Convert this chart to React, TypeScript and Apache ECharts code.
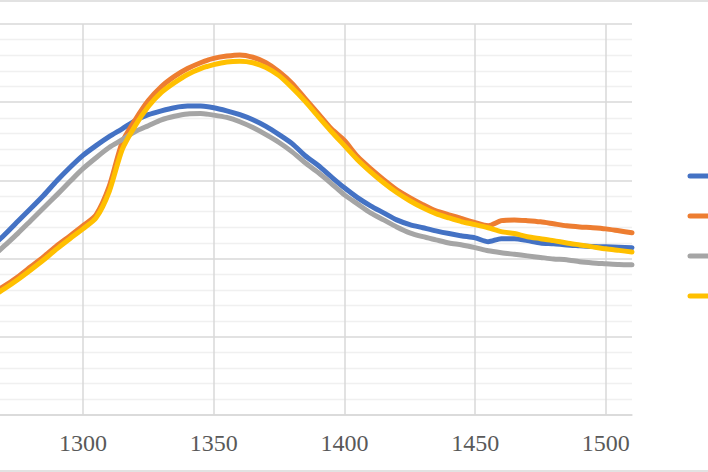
import React, { useEffect, useRef } from "react";
import * as echarts from "echarts";

const xValues = [
  1265, 1270, 1275, 1280, 1285, 1290, 1295, 1300, 1305, 1310, 1315, 1320, 1325, 1330,
  1335, 1340, 1345, 1350, 1355, 1360, 1365, 1370, 1375, 1380, 1385, 1390, 1395, 1400,
  1405, 1410, 1415, 1420, 1425, 1430, 1435, 1440, 1445, 1450, 1455, 1460, 1465, 1470,
  1475, 1480, 1485, 1490, 1495, 1500, 1505, 1510,
];

const series1 = [
  0.43, 0.461, 0.495, 0.528, 0.562, 0.599, 0.633, 0.664, 0.689, 0.712, 0.732, 0.753, 0.768, 0.778,
  0.786, 0.79, 0.79, 0.786, 0.778, 0.768, 0.755, 0.738, 0.717, 0.694, 0.663, 0.638, 0.609, 0.581,
  0.556, 0.535, 0.517, 0.499, 0.487, 0.479, 0.471, 0.464, 0.458, 0.453, 0.443, 0.451, 0.451, 0.446,
  0.44, 0.438, 0.435, 0.433, 0.431, 0.43, 0.429, 0.428,
];

const series2 = [
  0.31, 0.33, 0.353, 0.379, 0.405, 0.433, 0.458, 0.484, 0.512, 0.584, 0.697, 0.755, 0.804, 0.84,
  0.866, 0.886, 0.901, 0.912, 0.918, 0.921, 0.915, 0.901, 0.878, 0.848, 0.809, 0.771, 0.732, 0.702,
  0.661, 0.63, 0.602, 0.576, 0.556, 0.538, 0.522, 0.512, 0.502, 0.492, 0.484, 0.497, 0.499, 0.497,
  0.494, 0.489, 0.484, 0.481, 0.479, 0.476, 0.471, 0.466,
];

const series3 = [
  0.402, 0.433, 0.464, 0.497, 0.53, 0.563, 0.597, 0.63, 0.658, 0.684, 0.704, 0.725, 0.74, 0.755,
  0.764, 0.77, 0.771, 0.767, 0.761, 0.75, 0.735, 0.717, 0.697, 0.673, 0.645, 0.62, 0.592, 0.563,
  0.54, 0.517, 0.499, 0.481, 0.466, 0.456, 0.448, 0.44, 0.435, 0.428, 0.42, 0.415, 0.411, 0.407,
  0.403, 0.399, 0.397, 0.392, 0.389, 0.387, 0.385, 0.384,
];

const series4 = [
  0.302, 0.323, 0.346, 0.371, 0.397, 0.425, 0.451, 0.476, 0.504, 0.571, 0.679, 0.74, 0.789, 0.825,
  0.85, 0.871, 0.886, 0.896, 0.903, 0.905, 0.901, 0.889, 0.868, 0.837, 0.802, 0.763, 0.725, 0.689,
  0.653, 0.622, 0.594, 0.569, 0.548, 0.53, 0.515, 0.504, 0.494, 0.487, 0.479, 0.469, 0.464, 0.456,
  0.451, 0.446, 0.44, 0.435, 0.43, 0.425, 0.421, 0.417,
];

const seriesNames = ["Series1", "Series2", "Series3", "Series4"];
const seriesColors = ["#4472C4", "#ED7D31", "#A5A5A5", "#FFC000"];
const seriesData = [series1, series2, series3, series4];

// the chart canvas starts 48px left of the visible page (the reference is a crop)
const OFFSET = 48;

export default function App() {
  const ref = useRef<HTMLDivElement>(null);

  useEffect(() => {
    if (!ref.current) return;
    const chart = echarts.init(ref.current, undefined, { renderer: "svg" });

    const legendMarks = seriesColors.map((c, i) => ({
      type: "line",
      shape: { x1: 690 + OFFSET, y1: 176 + i * 40, x2: 722 + OFFSET, y2: 176 + i * 40 },
      style: { stroke: c, lineWidth: 5, lineCap: "round" },
      silent: true,
    }));

    chart.setOption({
      animation: false,
      backgroundColor: "#ffffff",
      grid: { left: 0.25, right: 76, top: 24, bottom: 57, containLabel: false },
      xAxis: {
        type: "value",
        min: 1250,
        max: 1510,
        interval: 50,
        axisLine: { show: true, lineStyle: { color: "#D9D9D9", width: 1.5 } },
        axisTick: { show: false },
        axisLabel: {
          show: true,
          showMinLabel: false,
          showMaxLabel: false,
          margin: 16,
          color: "#595959",
          fontSize: 24,
          fontFamily: "Liberation Serif",
          formatter: (v: number) => String(v),
        },
        splitLine: {
          show: true,
          showMinLine: false,
          showMaxLine: false,
          lineStyle: { color: "#D9D9D9", width: 1.5 },
        },
      },
      yAxis: {
        type: "value",
        min: 0,
        max: 1,
        interval: 0.2,
        axisLine: { show: false },
        axisTick: { show: false },
        axisLabel: { show: false },
        splitLine: { show: true, lineStyle: { color: "#D9D9D9", width: 1.5 } },
        minorTick: { show: false, splitNumber: 5 },
        minorSplitLine: { show: true, lineStyle: { color: "#F0F0F0", width: 1.3 } },
      },
      series: seriesData.map((d, i) => ({
        name: seriesNames[i],
        type: "line",
        data: d.map((v, j) => [xValues[j], v]),
        showSymbol: false,
        smooth: 0.25,
        lineStyle: { color: seriesColors[i], width: 5, cap: "round", join: "round" },
        itemStyle: { color: seriesColors[i] },
      })),
      graphic: [
        {
          type: "line",
          shape: { x1: 0, y1: 1, x2: 708 + OFFSET, y2: 1 },
          style: { stroke: "#D9D9D9", lineWidth: 1.5 },
          silent: true,
        },
        {
          type: "line",
          shape: { x1: 0, y1: 471, x2: 708 + OFFSET, y2: 471 },
          style: { stroke: "#D9D9D9", lineWidth: 1.5 },
          silent: true,
        },
        ...legendMarks,
      ],
    });

    return () => chart.dispose();
  }, []);

  return (
    <div
      ref={ref}
      style={{ position: "fixed", left: -OFFSET, top: 0, width: 708 + OFFSET, height: 472 }}
    />
  );
}
